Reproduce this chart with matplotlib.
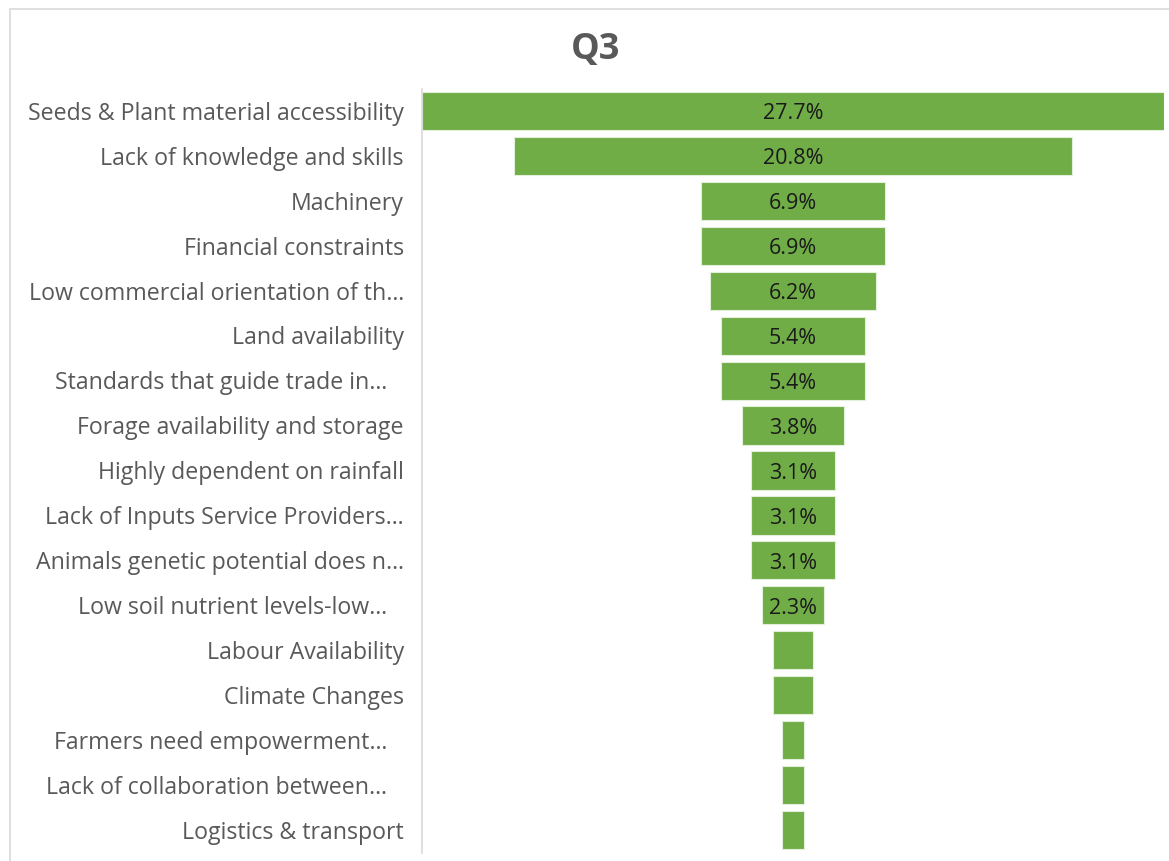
#!/usr/bin/env python3
# -*- coding: utf-8 -*-
"""
Funnel chart for Q3: share of responses per constraint.
Saves out.png
"""

import matplotlib.pyplot as plt
from matplotlib.patches import Rectangle
from matplotlib.transforms import blended_transform_factory, offset_copy

categories = [
    "Seeds & Plant material accessibility",
    "Lack of knowledge and skills",
    "Machinery",
    "Financial constraints",
    "Low commercial orientation of th\u2026",
    "Land availability",
    "Standards that guide trade in\u2026",
    "Forage availability and storage",
    "Highly dependent on rainfall",
    "Lack of Inputs Service Providers\u2026",
    "Animals genetic potential does n\u2026",
    "Low soil nutrient levels-low\u2026",
    "Labour Availability",
    "Climate Changes",
    "Farmers need empowerment\u2026",
    "Lack of collaboration between\u2026",
    "Logistics & transport",
]
# percentages (share of 130 responses)
values = [27.7, 20.8, 6.9, 6.9, 6.2, 5.4, 5.4, 3.8, 3.1, 3.1, 3.1, 2.3,
          1.5, 1.5, 0.8, 0.8, 0.8]
# wrapped labels are cut short by Excel and sit a bit further left
label_shift = [0, 0, 0, 0, 0, 0, 1, 0, 0, 0, 0, 1, 0, 0, 1, 1, 0]
# bars too narrow to carry a value label
show_value = [True] * 12 + [False] * 5

GREEN = "#70AD47"
GRAY = "#595959"
FONT = ["Open Sans", "DejaVu Sans"]


def main():
    plt.rcParams["font.family"] = FONT

    fig = plt.figure(figsize=(11.69, 8.62), dpi=100)

    # chart area frame (light gray, only top and left visible)
    fig.patches.append(Rectangle((10 / 1169, -0.1), 1.2, 1 - 10 / 862 + 0.1,
                                 transform=fig.transFigure, fill=False,
                                 edgecolor="#D9D9D9", linewidth=1.2))

    ax = fig.add_axes([422 / 1169, 1 - 853.5 / 862, 742 / 1169, 764 / 862])

    n = len(values)
    ypos = list(range(n))
    lefts = [-v / 2 for v in values]
    ax.barh(ypos, values, left=lefts, height=0.85, color=GREEN,
            edgecolor="#E2EFDA", linewidth=0.8)

    half = max(values) / 2
    ax.set_xlim(-half, half)
    ax.set_ylim(n - 0.5, -0.5)

    for y, v, show in zip(ypos, values, show_value):
        if show:
            ax.text(0, y + 0.04, f"{v:.1f}%", ha="center", va="center",
                    fontsize=15.5, color="#1a1a1a")

    # category labels, right aligned left of the axis line
    trans = blended_transform_factory(ax.transAxes, ax.transData)
    for y, cat, sh in zip(ypos, categories, label_shift):
        t = offset_copy(trans, fig=fig, x=-(13 + 12 * sh), y=0, units="points")
        ax.text(0, y + 0.04, cat, transform=t, ha="right", va="center",
                fontsize=16.7, color=GRAY)

    ax.set_xticks([])
    ax.set_yticks([])
    for side in ["top", "right", "bottom"]:
        ax.spines[side].set_visible(False)
    ax.spines["left"].set_color("#D9D9D9")
    ax.spines["left"].set_linewidth(1.2)

    fig.text(596 / 1169, 1 - 50 / 862, "Q3", ha="center", va="center",
             fontsize=26, fontweight="bold", color=GRAY)

    fig.savefig("out.png", dpi=100)
    plt.close(fig)


if __name__ == "__main__":
    main()
